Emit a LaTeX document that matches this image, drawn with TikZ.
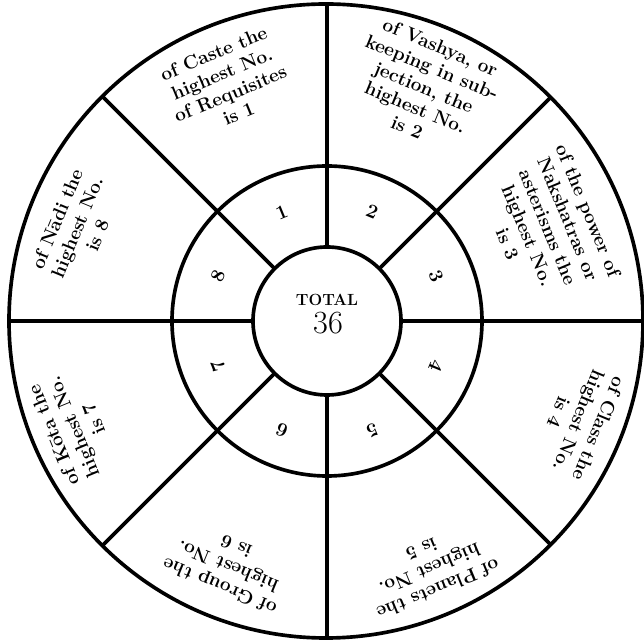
\documentclass[tikz,border=0pt]{standalone}
\usepackage{fontspec}
\begin{document}
\begin{tikzpicture}
        [x=0.025cm, y=0.025cm,
         ring/.style={line width=2.6pt},
         sector text/.style={align=center, inner sep=0pt,
                             font=\bfseries\fontsize{13.5}{15.5}\selectfont},
         ring num/.style={inner sep=0pt, font=\bfseries\fontsize{14}{16}\selectfont}]
        \useasboundingbox (-327,-321) rectangle (317,321);
        %cerchi
            \draw[ring] (0,0) circle (74);
            \draw[ring] (0,0) circle (155);
            \draw[ring] (-1,0) circle (317);
            %raggi
            \foreach \a in {0,45,...,315}
                \draw[ring] (\a:74) -- (\a:317);
            %numeri anello interno
            \foreach \n [evaluate=\n as \a using 157.5-45*\n] in {1,...,8}
                \node[ring num, rotate=\a-90] (num\n) at (\a:118) {\n};
            %centro
            \node[font=\bfseries\fontsize{11.5}{13}\selectfont] (total) at (0,21) {TOTAL};
            \node[font=\fontsize{23}{25}\selectfont] (sum) at (1,-2) {36};
            %settori esterni
            \node[sector text, rotate=22.5] (caste) at (113:258)
                {of Caste the\\highest No.\\of Requisites\\is 1};
            \node[sector text, rotate=-22.5] (vashya) at (67.5:253)
                {of Vashya, or\\keeping in sub-\\jection, the\\highest No.\\is 2};
            \node[sector text, rotate=-67.5] (nakshatra) at (23:240)
                {of the power of\\Nakshatras or\\asterisms the\\highest No.\\is 3};
            \node[sector text, rotate=-112.5] (class) at (-21.6:271)
                {of Class the\\highest No.\\is 4};
            \node[sector text, rotate=-157.5] (planets) at (-67.5:269)
                {of Planets the\\highest No.\\is 5};
            \node[sector text, rotate=157.5] (group) at (-112:265)
                {of Group the\\highest No.\\is 6};
            \node[sector text, rotate=112.5] (kota) at (-157.3:275)
                {of K\=ota the\\highest No.\\is 7};
            \node[sector text, rotate=67.5] (nadi) at (159.4:267)
                {of N\=adi the\\highest No.\\is 8};
    \end{tikzpicture}
\end{document}
